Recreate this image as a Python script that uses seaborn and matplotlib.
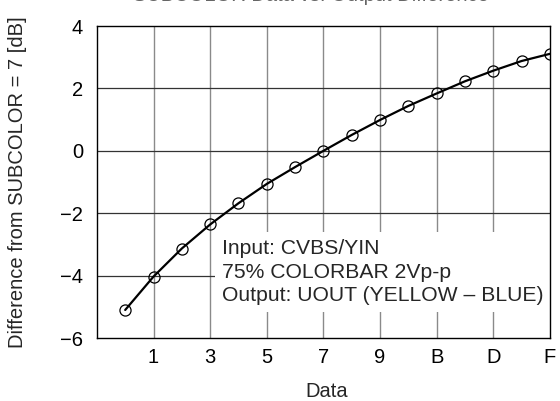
import numpy as np
import pandas as pd
import matplotlib
matplotlib.use("Agg")
import matplotlib.pyplot as plt
import seaborn as sns

# Data
data_codes = list(range(16))
diff_db = [-5.10, -4.03, -3.13, -2.36, -1.68, -1.06, -0.52, 0.00,
           0.51, 0.99, 1.44, 1.84, 2.23, 2.57, 2.88, 3.11]
tick_pos = [1, 3, 5, 7, 9, 11, 13, 15]
tick_labels = ["1", "3", "5", "7", "9", "B", "D", "F"]
y_ticks = [-6, -4, -2, 0, 2, 4]
note_lines = ["Input: CVBS/YIN", "75% COLORBAR 2Vp-p", "Output: UOUT (YELLOW \u2013 BLUE)"]

df = pd.DataFrame({"Data": data_codes, "Diff": diff_db})

sns.set_style("white")
plt.rcParams["font.family"] = ["Liberation Sans", "DejaVu Sans"]

fig = plt.figure(figsize=(5.6, 4.01), dpi=100)
ax = fig.add_axes([0.173, 0.157, 0.809, 0.778])

# grid
for x in tick_pos[:-1]:
    ax.axvline(x, color="#8a8a8a", lw=1.0, zorder=0)
for y in y_ticks[1:-1]:
    ax.axhline(y, color="#333333", lw=0.9, zorder=0)

sns.lineplot(data=df, x="Data", y="Diff", ax=ax, color="black", lw=1.6,
             marker="o", markersize=8, markerfacecolor="none",
             markeredgecolor="black", markeredgewidth=0.9, zorder=3)

ax.set_xlim(-1, 15)
ax.set_ylim(-6, 4)
ax.set_xticks(tick_pos)
ax.set_xticklabels(tick_labels)
ax.set_yticks(y_ticks)
ax.tick_params(axis="both", length=0, labelsize=14.5, colors="black")
ax.tick_params(axis="x", pad=7)
ax.tick_params(axis="y", pad=10)

ax.set_xlabel("Data", fontsize=14.5)
ax.set_ylabel("Difference from SUBCOLOR = 7 [dB]", fontsize=14.5)
ax.xaxis.set_label_coords(0.508, -0.14)
ax.yaxis.set_label_coords(-0.155, 0.5)

for s in ax.spines.values():
    s.set_color("black")
    s.set_linewidth(1.0)

ax.text(3.42, -2.84, "\n".join(note_lines), fontsize=15.2, ha="left", va="top",
        linespacing=1.3, zorder=2,
        bbox=dict(facecolor="white", edgecolor="none", pad=5))

# title, clipped at the top like the reference
fig.text(0.556, 0.9975, "SUBCOLOR Data vs. Output Difference", fontsize=14.5,
         ha="center", va="baseline", color="#666666")

fig.savefig("out.png", dpi=100)
